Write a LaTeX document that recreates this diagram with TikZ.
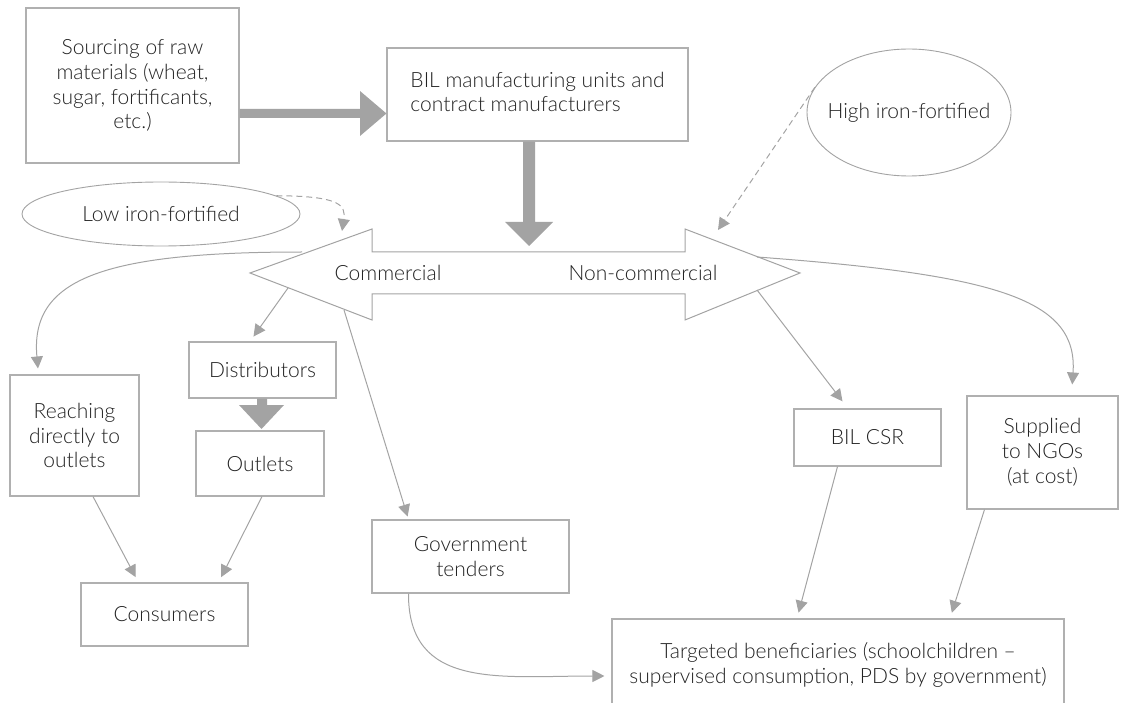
\documentclass[tikz,border=0pt]{standalone}
\usepackage{fontspec}
\setmainfont{Lato Light}
\usetikzlibrary{arrows.meta,shapes.geometric}
\definecolor{lg}{HTML}{A3A3A3}
\definecolor{bd}{HTML}{B0B0B0}
\definecolor{tx}{HTML}{222222}
\begin{document}
\begin{tikzpicture}[x=1pt,y=-1pt,
  font=\fontsize{21}{24.8}\selectfont, text=tx,
  box/.style={draw=bd, line width=1.1pt, fill=white, inner sep=0pt, align=center},
  oval/.style={ellipse, draw=lg, line width=0.9pt, fill=white, inner sep=0pt},
  conn/.style={draw=lg, line width=1pt, -{Triangle[length=12pt,width=12pt]}},
  dconn/.style={conn, dash pattern=on 6pt off 4pt},
  thick arrow/.style={fill=lg, draw=none}]
\useasboundingbox (0,0) rectangle (1122,703);

% boxes
\node[box, minimum width=213, minimum height=155] (src) at (132.5,85.5) {Sourcing of raw\\materials (wheat,\\sugar, fortificants,\\etc.)};
\node[box, minimum width=301, minimum height=93] (bil) at (537.5,94.5) {\begin{tabular}{@{}l@{}}BIL manufacturing units and\\contract manufacturers\end{tabular}};
\node[oval, minimum width=278, minimum height=64, label={center:Low iron-fortified}] (low) at (161,214) {};
\node[oval, minimum width=204, minimum height=127, label={center:High iron-fortified}] (high) at (909,112.5) {};
\node[box, minimum width=129, minimum height=121] (reach) at (74.5,435.5) {Reaching\\directly to\\outlets};
\node[box, minimum width=147, minimum height=56] (dist) at (262.5,370) {Distributors};
\node[box, minimum width=128, minimum height=65] (out) at (260,463.5) {Outlets};
\node[box, minimum width=167, minimum height=63] (cons) at (164.5,614.5) {Consumers};
\node[box, minimum width=197, minimum height=73] (gov) at (470.5,556.5) {Government\\tenders};
\node[box, minimum width=147, minimum height=57] (csr) at (867.5,437.5) {BIL CSR};
\node[box, minimum width=151, minimum height=113] (sup) at (1042.5,452.5) {Supplied\\to NGOs\\(at cost)};
\node[box, minimum width=452, minimum height=92] (tb) at (838,665) {Targeted beneficiaries (schoolchildren --\\supervised consumption, PDS by government)};

% thick arrows
\fill[thick arrow] (src.east |- 0,109) -- (360,109) -- (360,91) -- (bil.west |- 0,113.5) -- (360,136) -- (360,118) -- (src.east |- 0,118) -- cycle;
\fill[thick arrow] (523,0 |- bil.south) -- (523,222) -- (505,222) -- (529,246) -- (553,222) -- (535,222) -- (535,0 |- bil.south) -- cycle;
\fill[thick arrow] (257,0 |- dist.south) -- (257,405) -- (239,405) -- (261.5,429) -- (284,405) -- (267,405) -- (267,0 |- dist.south) -- cycle;

% double arrow
\draw[draw=lg, line width=1pt, fill=white] (250,273) -- (372,229) -- (372,252) -- (685,252) -- (685,229) -- (800,273) -- (685,320) -- (685,294) -- (372,294) -- (372,320) -- cycle;
\node (com) at (388,273) {Commercial};
\node (ncom) at (643,273) {Non-commercial};

\coordinate (cL) at (302,252);
\coordinate (cD) at (288,288);
\coordinate (cG) at (344,310);
\coordinate (nU) at (757,257);
\coordinate (nD) at (757,290);
\coordinate (lowT) at (342,231);
\coordinate (highT) at (718,230);

% connectors
\draw[conn, shorten >=6pt] (cL) .. controls (100,252) and (30,280) .. ([xshift=-36pt]reach.north);
\draw[conn, shorten >=6pt] (cD) -- ([xshift=-12.5pt]dist.north);
\draw[conn, shorten >=3pt] (cG) -- ([xshift=-62pt]gov.north);
\draw[conn, shorten >=9pt] (nD) -- ([xshift=-19.5pt]csr.north);
\draw[conn, shorten >=11pt] (nU) .. controls (1000,275) and (1078,300) .. ([xshift=29pt]sup.north);
\draw[conn, shorten >=6pt] ([xshift=18.5pt]reach.south) -- ([xshift=-26pt]cons.north);
\draw[conn, shorten >=6pt] ([xshift=2pt]out.south) -- ([xshift=54pt]cons.north);
\draw[conn, shorten >=7pt] ([xshift=-62pt]gov.south) .. controls (408,690) and (500,676) .. ([yshift=-11pt]tb.west);
\draw[conn, shorten >=6pt] ([xshift=-30pt]csr.south) -- ([xshift=-41pt]tb.north);
\draw[conn, shorten >=6pt] ([xshift=-58pt]sup.south) -- ([xshift=112pt]tb.north);
\draw[dconn] (low.9) .. controls (340,196) and (346,205) .. (lowT);
\draw[dconn] (high.165) -- (highT);
\end{tikzpicture}
\end{document}
